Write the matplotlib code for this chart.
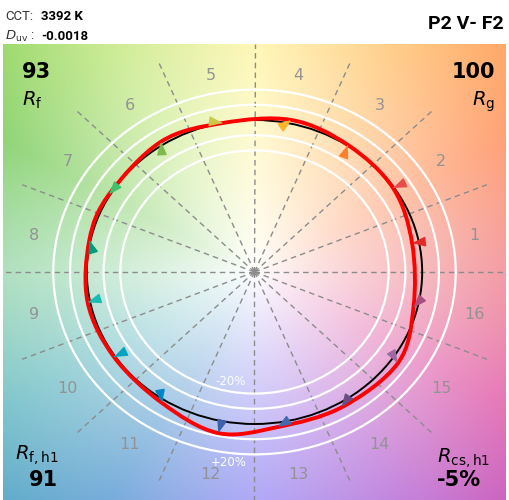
import numpy as np
import matplotlib.pyplot as plt
from matplotlib.path import Path
from matplotlib.patches import PathPatch, Circle

# header / metric values
cct = "3392 K"
duv = "-0.0018"
title = "P2 V- F2"
rf = "93"
rg = "100"
rf_h1 = "91"
rcs_h1 = "-5%"

# 16 hue bins, test chromaticity (normalised, reference = unit circle)
bins = list(range(1, 17))
test_x = [0.940, 0.826, 0.557, 0.220, -0.190, -0.557, -0.868, -0.985,
          -0.995, -0.838, -0.551, -0.216, 0.138, 0.520, 0.855, 0.948]
test_y = [0.190, 0.553, 0.836, 1.000, 0.980, 0.858, 0.510, 0.210,
          -0.200, -0.559, -0.862, -1.060, -1.020, -0.890, -0.600, -0.235]
bin_colors = ['#E62828', '#E74B4B', '#FB812E', '#FFB529', '#CBCA46', '#7EB94C',
              '#41C06D', '#009C7C', '#16BCB0', '#00A4BF', '#0085C3', '#3B62AA',
              '#4568AE', '#6A4E85', '#9D69A1', '#A74F81']

# background hue wheel (edge colours by angle)
bg_angles = [0, 30, 60, 90, 120, 150, 180, 210, 240, 270, 300, 330, 360]
bg_colors = [(240, 125, 135), (255, 145, 95), (255, 195, 115), (255, 245, 160),
             (195, 232, 130), (125, 205, 95), (150, 215, 170), (105, 188, 195),
             (95, 158, 212), (150, 140, 245), (185, 110, 215), (225, 95, 170),
             (240, 125, 135)]

fig = plt.figure(figsize=(5.1, 5.0), dpi=100)
ax = fig.add_axes([3 / 510, 0, 503 / 510, 456 / 500])
ax.set_xlim(-1.5, 1.5)
ax.set_ylim(-1.5, 1.5)
ax.axis('off')

# background
gx, gy = np.meshgrid(np.linspace(-1.5, 1.5, 400), np.linspace(-1.5, 1.5, 400))
ang = np.degrees(np.arctan2(gy, gx)) % 360
rad = np.hypot(gx, gy)
t = np.clip(rad / 2.1, 0, 1) ** 0.85
img = np.ones(gx.shape + (3,))
for ch in range(3):
    edge = np.interp(ang, bg_angles, [c[ch] / 255 for c in bg_colors])
    img[..., ch] = 1 * (1 - t) + edge * t
ax.imshow(img, extent=(-1.5, 1.5, -1.5, 1.5), origin='lower', aspect='auto', zorder=0)

# bin boundary lines
for k in range(16):
    a = np.radians(22.5 * k)
    ax.plot([0, 1.5 * np.cos(a)], [0, 1.5 * np.sin(a)], color='#8c8c8c',
            lw=1, ls=(0, (4, 3)), zorder=1)

# +-20% rings and reference circle
for r in [0.8, 0.9, 1.1, 1.2]:
    ax.add_patch(Circle((0, 0), r, fill=False, ec='white', lw=1.6, zorder=2))
ax.add_patch(Circle((0, 0), 1.0, fill=False, ec='black', lw=1.4, zorder=3))

# bin numbers
for b in bins:
    a = np.radians(11.25 + 22.5 * (b - 1))
    ax.text(1.34 * np.cos(a), 1.34 * np.sin(a) - 0.02, str(b), color='#939393',
            fontsize=11.5, ha='center', va='center', zorder=4)

ax.text(-0.144, -0.72, "-20%", color='white', fontsize=8.5, ha='center', va='center', zorder=4)
ax.text(-0.156, -1.25, "+20%", color='white', fontsize=8.5, ha='center', va='center', zorder=4)

# smooth closed test curve (Catmull-Rom as cubic Bezier)
pts = np.column_stack([test_x, test_y])
n = len(pts)
verts = [pts[0]]
codes = [Path.MOVETO]
for i in range(n):
    p0, p1, p2, p3 = pts[i - 1], pts[i], pts[(i + 1) % n], pts[(i + 2) % n]
    verts += [p1 + (p2 - p0) / 6, p2 - (p3 - p1) / 6, p2]
    codes += [Path.CURVE4] * 3
ax.add_patch(PathPatch(Path(verts, codes), fill=False, ec='red', lw=2.8, zorder=5))

# arrows from reference to test
for b in bins:
    a = np.radians(11.25 + 22.5 * (b - 1))
    ax.annotate('', xy=(test_x[b - 1], test_y[b - 1]), xytext=(np.cos(a), np.sin(a)),
                arrowprops=dict(arrowstyle='-|>,head_length=0.8,head_width=0.3',
                                color=bin_colors[b - 1], lw=1, shrinkA=0, shrinkB=0),
                zorder=6)

# header texts
fig.text(5 / 510, 1 - 20 / 500, "CCT:", fontsize=9.5, family='Roboto', color='#333333')
fig.text(41 / 510, 1 - 20 / 500, cct, fontsize=9.5, family='Roboto', fontweight='bold')
fig.text(5 / 510, 1 - 40 / 500, r"$D_{\mathrm{uv}}$ :", fontsize=9.5, family='Roboto', color='#333333')
fig.text(41 / 510, 1 - 40 / 500, duv, fontsize=9.5, family='Roboto', fontweight='bold')
fig.text(504 / 510, 1 - 29 / 500, title, fontsize=14, family='Roboto', fontweight='bold',
         ha='right')

# corner metrics
fig.text(22 / 510, 1 - 78 / 500, rf, fontsize=15, fontweight='bold')
fig.text(22 / 510, 1 - 106 / 500, r"$R_\mathrm{f}$", fontsize=14)
fig.text(495 / 510, 1 - 78 / 500, rg, fontsize=15, fontweight='bold', ha='right')
fig.text(495 / 510, 1 - 106 / 500, r"$R_\mathrm{g}$", fontsize=14, ha='right')
fig.text(15 / 510, 1 - 460 / 500, r"$R_\mathrm{f,h1}$", fontsize=14)
fig.text(43 / 510, 1 - 486 / 500, rf_h1, fontsize=15, fontweight='bold', ha='center')
fig.text(437 / 510, 1 - 463 / 500, r"$R_\mathrm{cs,h1}$", fontsize=14)
fig.text(437 / 510, 1 - 486 / 500, rcs_h1, fontsize=15, fontweight='bold')

fig.savefig('out.png', dpi=100)
